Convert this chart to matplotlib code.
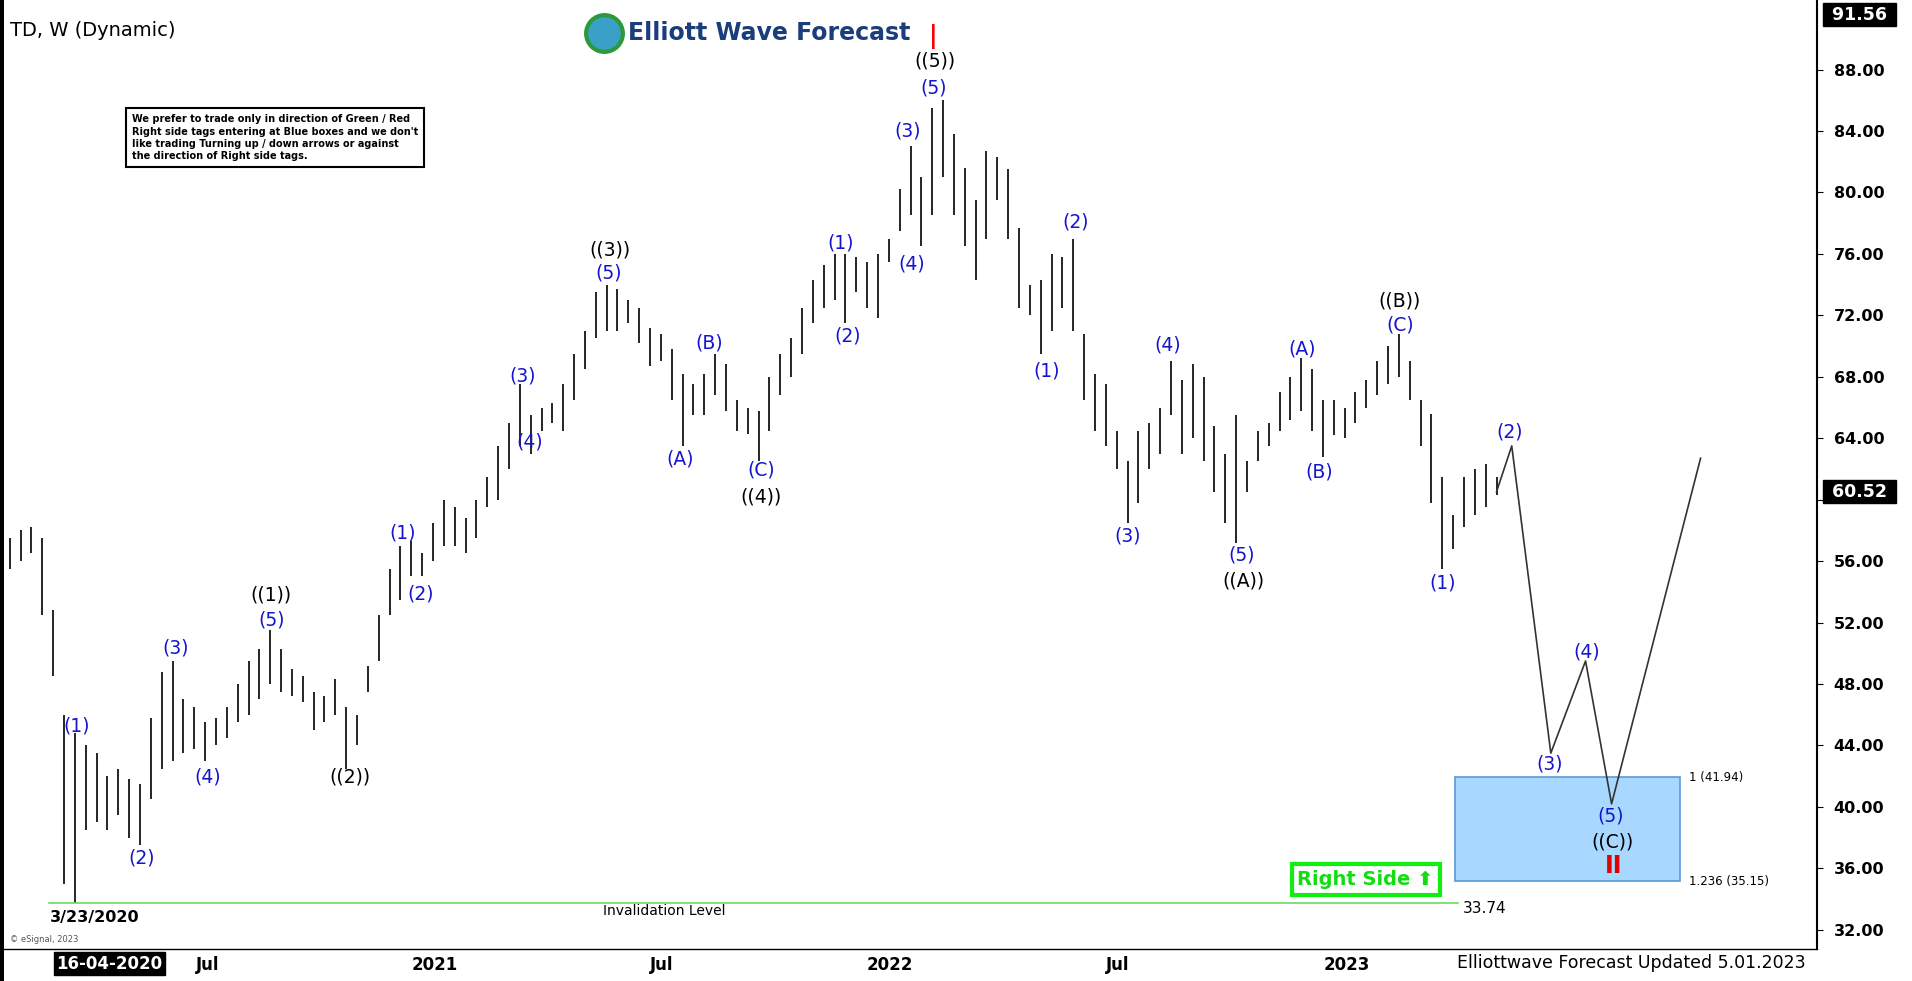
import matplotlib
matplotlib.use("Agg")
import matplotlib.pyplot as plt
from matplotlib.patches import Rectangle

highs = [57.5,58,58.2,57.5,52.8,46,44.8,44,43.5,42,42.5,41.8,41.5,45.8,48.8,49.5,47,46.5,45.5,45.8,
         46.5,48,49.5,50.3,51.5,50.3,49,48.5,47.5,47.2,48.3,46.5,46,49.2,52.5,55.5,57,57.3,56.5,58.5,
         60,59.5,58.8,60,61.5,63.5,65,67.5,65.5,66,66.3,67.5,69.5,71,73.5,74,73.7,73,72.5,71.2,
         70.8,69.8,68.2,67.5,68.2,69.5,68.8,66.5,66,65.8,68,69.5,70.5,72.5,74.3,75.3,76,76,75.8,75.5,
         76,77,80.2,83,81,85.5,86,83.8,81.6,79.5,82.7,82.3,81.5,77.7,74,74.3,76,75.8,77,70.8,
         68.2,67.5,64.5,62.5,64.5,65,66,69,67.8,68.8,68,64.8,63,65.5,62.5,64.5,65,67,68,69.2,
         68.5,66.5,66.5,66,67,67.8,69,70,70.8,69,66.5,65.6,61.5,59,61.5,62,62.3,61.5]
lows = [55.5,56,56.5,52.5,48.5,35,33.74,38.5,39,38.5,39.5,38,37.5,40.5,42.5,43,43.5,43.8,43,44,
        44.5,45.5,46,47,48,47.5,47.2,46.8,45,45.5,46,42.5,44,47.5,49.5,52.5,53.5,55,55,56,
        57,57,56.5,57.5,59.5,60,62,63.5,63,64.5,65,64.5,66.5,68.5,70.5,71,71,71.5,70.2,68.7,
        69,66.5,63.5,65.5,65.5,66.8,65.8,64.5,64.3,62.5,64.5,66.8,68,69.5,71.5,72.5,73,71.5,73.5,72.5,
        71.8,75.5,77.5,78.5,76.5,78.5,81,78.5,76.5,74.3,77,79.5,77,72.5,72,69.5,71,72.5,71,66.5,
        64.5,63.5,62,58.5,59.8,62,63,65.5,63,64,62.5,60.5,58.5,57.2,60.5,62.5,63.5,64.5,65.2,65.8,
        64.5,62.8,64.2,64,65,66,66.8,67.5,68,66.5,63.5,59.8,55.5,56.8,58.2,59,59.5,60.3]
last_price = 60.52
proj_x = [137, 138.4, 142.0, 145.2, 147.6, 155.8]
proj_y = [60.52, 63.5, 43.5, 49.5, 40.2, 62.7]
xtick_pos = [18.2, 39.2, 60.1, 81.1, 102.1, 123.2]
xtick_lab = ["Jul", "2021", "Jul", "2022", "Jul", "2023"]
yticks = list(range(32, 89, 4))

W, H = 1568, 804
def px(x, y):
    return (x - 8) / 8.9, 88 - (y - 57) / 12.59

fig = plt.figure(figsize=(19.12, 9.81), dpi=100)
ax = fig.add_axes([0, 1 - 778 / H, 1490 / W, 778 / H])
ax.set_xlim(px(0, 0)[0], px(1490, 0)[0])
ax.set_ylim(px(0, 778)[1], px(0, 0)[1])

ax.vlines(range(len(highs)), lows, highs, color="black", lw=1.2)
ax.plot(proj_x, proj_y, color="#333333", lw=1.2)

x0, _ = px(1193, 0); x1, _ = px(1378, 0)
ax.add_patch(Rectangle((x0, 35.15), x1 - x0, 41.94 - 35.15, facecolor="#a8d8ff", edgecolor="#5a9ad8", lw=1.2, zorder=1))
ax.text(px(1385, 0)[0], 41.94, "1 (41.94)", fontsize=8.5, va="center")
ax.text(px(1385, 0)[0], 35.15, "1.236 (35.15)", fontsize=8.5, va="center")
ax.text(px(1200, 0)[0], 33.4, "33.74", fontsize=11, va="center")
ax.plot([px(40, 0)[0], px(1196, 0)[0]], [33.74, 33.74], color="#66dd66", lw=1.2)
ax.text(*px(545, 747), "Invalidation Level", fontsize=10, ha="center", va="center")
ax.text(*px(78, 752), "3/23/2020", fontsize=11.5, fontweight="bold", ha="center", va="center")

blue = "#1515d0"
labels = [("(1)",63,595,blue),("(2)",116,703,blue),("(3)",144,531,blue),("(4)",170,637,blue),
          ("(5)",223,508,blue),("((1))",222,488,"black"),("((2))",287,637,"black"),
          ("(1)",330,437,blue),("(2)",345,487,blue),("(3)",429,308,blue),("(4)",434,362,blue),
          ("(5)",499,224,blue),("((3))",500,205,"black"),("(A)",558,376,blue),("(B)",582,281,blue),
          ("(C)",624,385,blue),("((4))",624,407,"black"),("(1)",689,199,blue),("(2)",695,275,blue),
          ("(3)",744,107,blue),("(4)",748,216,blue),("(5)",766,72,blue),("((5))",767,50,"black"),
          ("(1)",858,304,blue),("(2)",882,182,blue),("(3)",925,439,blue),("(4)",958,283,blue),
          ("(5)",1018,455,blue),("((A))",1020,476,"black"),("(A)",1068,286,blue),("(B)",1082,387,blue),
          ("(C)",1148,266,blue),("((B))",1148,247,"black"),("(1)",1183,478,blue),("(2)",1238,354,blue),
          ("(3)",1271,626,blue),("(4)",1301,534,blue),("(5)",1321,669,blue),("((C))",1322,690,"black")]
for t, x, y, c in labels:
    ax.text(*px(x, y), t, color=c, fontsize=13.5, ha="center", va="center")

ax.text(*px(765, 30), "|", color="red", fontsize=17, ha="center", va="center", fontweight="bold")
ax.text(*px(1323, 710), "II", color="#e00000", fontsize=17, ha="center", va="center", fontweight="bold")

ax.text(*px(1120, 721), "Right Side \u2b06", color="#11dd11", fontsize=14, fontweight="bold",
        ha="center", va="center",
        bbox=dict(boxstyle="square,pad=0.3", fc="white", ec="#11ee11", lw=3))

ax.text(*px(108, 113), "We prefer to trade only in direction of Green / Red\nRight side tags entering at Blue boxes and we don't\nlike trading Turning up / down arrows or against\nthe direction of Right side tags.",
        fontsize=7, fontweight="bold", ha="left", va="center", linespacing=1.3,
        bbox=dict(boxstyle="square,pad=0.6", fc="white", ec="black", lw=1.5))

ax.text(*px(8, 25), "TD, W (Dynamic)", fontsize=14, ha="left", va="center")
ax.text(*px(515, 27), "Elliott Wave Forecast", fontsize=17, fontweight="bold", color="#1a3d7c", ha="left", va="center")
ax.scatter([px(495, 27)[0]], [px(495, 27)[1]], s=700, c="#3aa0c8", edgecolors="#2a9a3a", linewidths=3)
ax.text(*px(8, 770), "© eSignal, 2023", fontsize=6, color="#555555", ha="left", va="center")

ax.set_xticks(xtick_pos)
ax.set_xticklabels(xtick_lab, fontsize=12, fontweight="bold")
ax.tick_params(axis="x", length=0, pad=5)
ax.yaxis.tick_right()
ax.set_yticks(yticks)
ax.set_yticklabels(["" if v == 60 else f"{v:.2f}" for v in yticks], fontsize=11.5, fontweight="bold")
ax.tick_params(axis="y", length=4, pad=8)
for s in ["top", "left"]:
    ax.spines[s].set_visible(False)
ax.spines["right"].set_linewidth(1.5)
ax.spines["bottom"].set_linewidth(1)

ax.text(1.005, last_price, " 60.52 ", transform=ax.get_yaxis_transform(), fontsize=12.5, fontweight="bold",
        color="white", va="center", ha="left", bbox=dict(boxstyle="square,pad=0.15", fc="black", ec="black"))
ax.text(1.005, 91.56, " 91.56 ", transform=ax.get_yaxis_transform(), fontsize=12.5, fontweight="bold",
        color="white", va="center", ha="left", bbox=dict(boxstyle="square,pad=0.15", fc="black", ec="black"))

fig.text(90 / W, 1 - 790 / H, "16-04-2020", fontsize=12, fontweight="bold", color="white", ha="center", va="center",
         bbox=dict(boxstyle="square,pad=0.15", fc="black", ec="black"))
fig.text(1338 / W, 1 - 789 / H, "Elliottwave Forecast Updated 5.01.2023", fontsize=12.5, ha="center", va="center")
fig.patches.append(Rectangle((0, 0), 3 / W, 1, transform=fig.transFigure, fc="black", figure=fig))
fig.savefig("out.png", dpi=100)
